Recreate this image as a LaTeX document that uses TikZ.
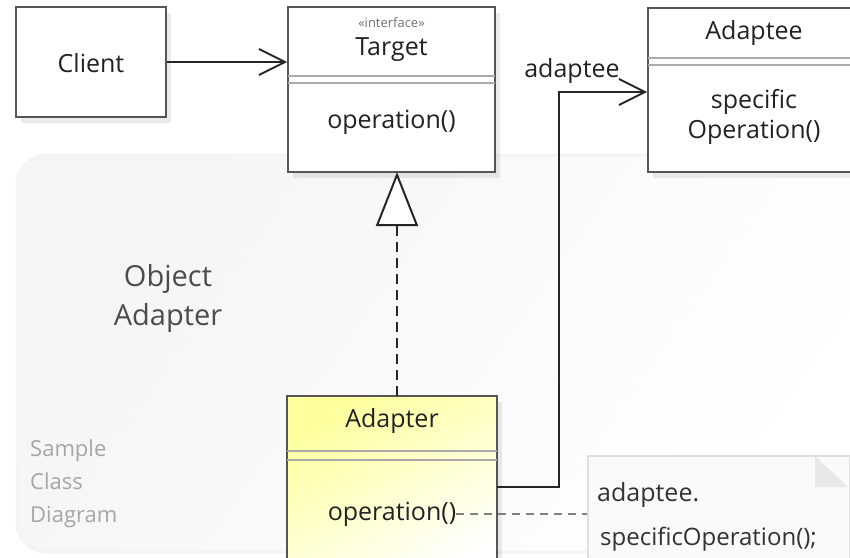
\documentclass[tikz,border=0pt]{standalone}
\usepackage{fontspec}
\setmainfont{Open Sans}
\usetikzlibrary{arrows.meta,shadows}
\definecolor{boxline}{HTML}{555555}
\definecolor{divline}{HTML}{AAAAAA}
\definecolor{txt}{HTML}{222222}
\begin{document}
\begin{tikzpicture}[x=1pt,y=-1pt,
  classbox/.style={draw=boxline, line width=2pt, fill=white, rectangle, inner sep=0pt,
    drop shadow={shadow xshift=5pt, shadow yshift=-6pt, opacity=0.08, fill=black}},
  divider/.style={draw=divline, line width=1.6pt},
  lbl/.style={inner sep=0pt, text=txt, font=\fontsize{25}{30}\selectfont},
  conn/.style={draw=black!85, line width=2pt},
  barb/.style={-{Straight Barb[length=26pt, width=26pt, line width=1.8pt]}},
]
\useasboundingbox (0,0) rectangle (850,557);
\fill[white] (0,0) rectangle (850,557);
% background frame
\draw[draw=gray!9, line width=3pt, rounded corners=30pt, left color=gray!8, right color=white, shading angle=55]
  (17,155) rectangle (880,552);
\node[lbl, text=black!70, font=\fontsize{29}{34}\selectfont, align=center] (title) at (168,298) {Object\\[5pt]Adapter};
\node[lbl, text=black!35, font=\fontsize{22}{33}\selectfont, align=left, anchor=north west] (sample) at (30,440) {Sample\\Class\\Diagram};

% Client
\node[classbox, minimum width=150pt, minimum height=110pt] (client) at (91,62) {};
\node[lbl] (clienttxt) at (91,63) {Client};

% Target
\node[classbox, minimum width=207pt, minimum height=165pt] (target) at (391.5,89.5) {};
\node[lbl, text=black!55, font=\fontsize{13}{15}\selectfont] (stereo) at (391.5,23) {«interface»};
\node[lbl] (targettxt) at (391.5,50) {Target};
\draw[divider] (288,76) -- (495,76);
\draw[divider] (288,83) -- (495,83);
\node[lbl] (targetop) at (391.5,122) {operation()};

% Adaptee
\node[classbox, minimum width=212pt, minimum height=164pt] (adaptee) at (754,90) {};
\node[lbl] (adapteetxt) at (754,33) {Adaptee};
\draw[divider] (648,58) -- (860,58);
\draw[divider] (648,65) -- (860,65);
\node[lbl, align=center] (adapteeop) at (754,117) {specific\\Operation()};

% Adapter
\node[classbox, minimum width=210pt, minimum height=184pt, top color=yellow!38, bottom color=white, shading angle=30] (adapter) at (392,488) {};
\node[lbl] (adaptertxt) at (392,421) {Adapter};
\draw[divider] (287,451) -- (497,451);
\draw[divider] (287,460) -- (497,460);
\node[lbl] (adapterop) at (392,514) {operation()};

% Note
\node[draw=gray!25, line width=1.5pt, fill=gray!4, rectangle, minimum width=262pt, minimum height=130pt, inner sep=0pt] (note) at (719,521) {};
\fill[gray!18] (815,456) -- (815,487) -- (848,487) -- cycle;
\node[lbl, anchor=west, text=black!80] (notel1) at (597,495) {adaptee.};
\node[lbl, anchor=west, text=black!80, font=\fontsize{24}{28}\selectfont] (notel2) at (600,539) {specificOperation();};

% connectors
\coordinate (cA) at (166,62);
\draw[conn, barb] (client.east |- cA) -- (target.west |- cA);
\coordinate (realtop) at (397,396);
\draw[conn, dashed, dash pattern=on 10pt off 6pt] (realtop) -- (397,226);
\draw[line width=2pt, draw=black!85, -{Triangle[open, length=54pt, width=42pt, line width=2pt, fill=white]}] (397,225) -- (397,172);
\coordinate (bend1) at (559,487);
\coordinate (bend2) at (559,92);
\draw[conn, barb] (497,487) -- (bend1) -- (bend2) -- (adaptee.west |- bend2);
\node[lbl, anchor=south] (assoc) at (572,84) {adaptee};
\draw[draw=gray, line width=1.5pt, dash pattern=on 8pt off 6pt] (adapterop.east) -- (note.west |- adapterop.east);
\end{tikzpicture}
\end{document}
